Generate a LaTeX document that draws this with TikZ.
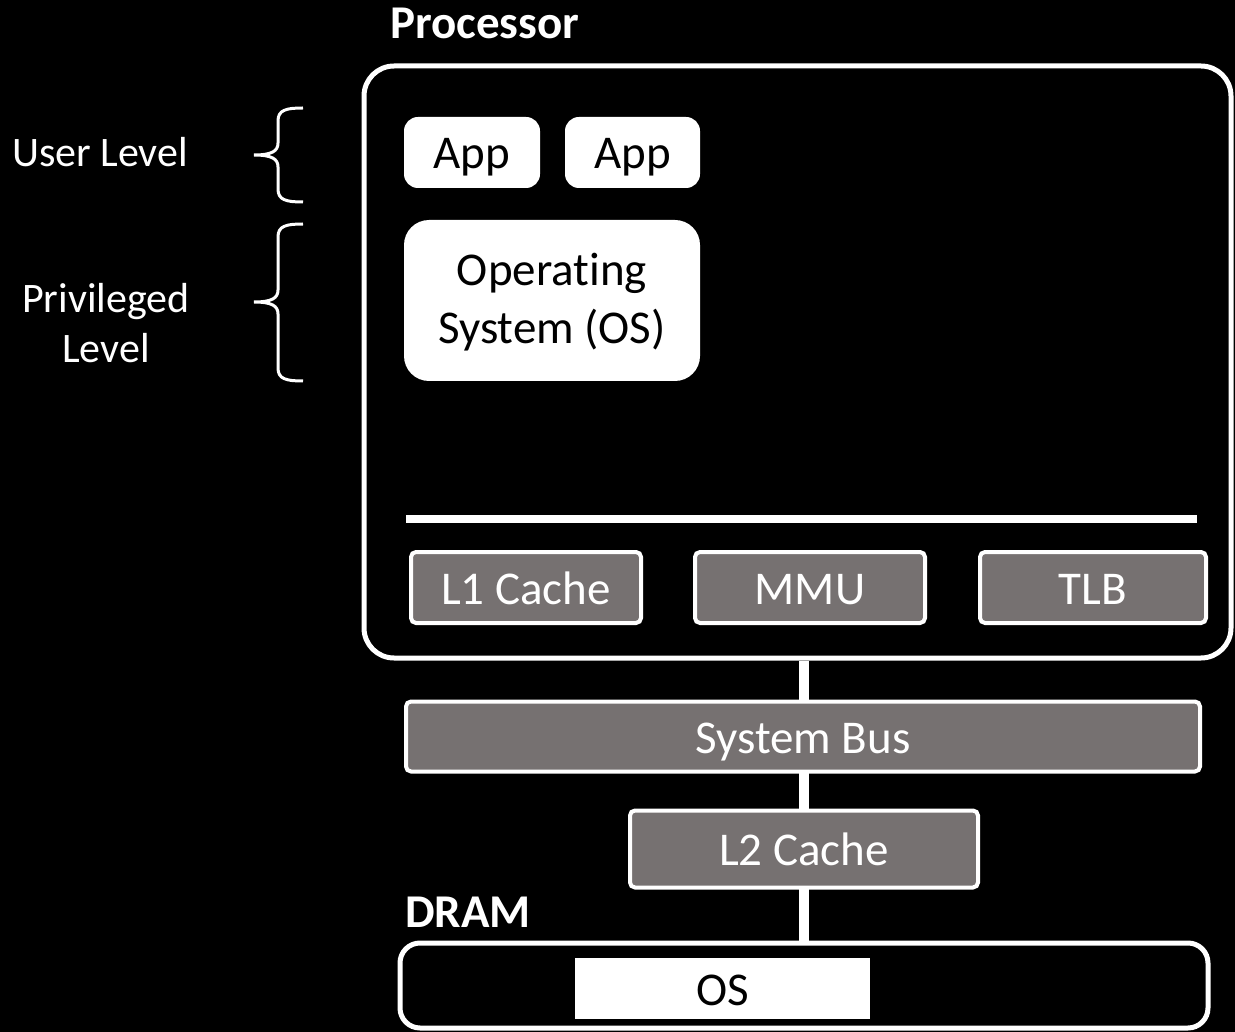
\documentclass[tikz,border=0pt]{standalone}
\usepackage{fontspec}
\setmainfont{Carlito}[Ligatures=NoCommon]
\usetikzlibrary{backgrounds}
\definecolor{boxgray}{HTML}{767171}
\begin{document}
\begin{tikzpicture}[x=1pt,y=-1pt,
  big/.style={font=\fontsize{47}{55}\selectfont},
  oneline/.style={text height=33pt, text depth=0pt},
  side/.style={font=\fontsize{42}{50}\selectfont, text=white, align=center},
  head/.style={font=\fontsize{47}{55}\selectfont\bfseries, text=white, inner sep=0},
  whitebox/.style={big, fill=white, text=black, rounded corners=14pt, inner sep=0, align=center},
  graybox/.style={big, oneline, fill=boxgray, draw=white, line width=4pt, rounded corners=5pt, text=white, inner sep=0},
  frame/.style={draw=white, line width=5pt, inner sep=0},
  bracestyle/.style={draw=white, line width=3pt},
  conn/.style={draw=white, line width=10pt}]
\useasboundingbox (0,0) rectangle (1235,1032);

\node[head, anchor=base west] (proclabel) at (390,39) {Processor};
\node[frame, rounded corners=30pt, minimum width=867pt, minimum height=592pt] (proc) at (797.5,362) {};

\node[whitebox, oneline, minimum width=136pt, minimum height=71pt] (app1) at (472,152.5) {App};
\node[whitebox, oneline, minimum width=135pt, minimum height=71pt] (app2) at (632.5,152.5) {App};
\node[whitebox, rounded corners=25pt, text depth=5pt, minimum width=296pt, minimum height=161pt] (os) at (552,300.5) {Operating\\[3pt]System (OS)};

\draw[white, line width=8pt] (406,519) -- (1197,519);

\node[graybox, minimum width=230pt, minimum height=71pt] (l1) at (526,587.5) {L1 Cache};
\node[graybox, minimum width=230pt, minimum height=71pt] (mmu) at (810,587.5) {MMU};
\node[graybox, minimum width=226pt, minimum height=71pt] (tlb) at (1093,587.5) {TLB};

\node[graybox, minimum width=794pt, minimum height=70pt] (bus) at (803,736.5) {System Bus};
\node[graybox, minimum width=348pt, minimum height=77pt] (l2) at (804,849) {L2 Cache};

\node[head, anchor=base west] (dramlabel) at (405,927) {DRAM};
\node[frame, rounded corners=20pt, minimum width=808pt, minimum height=85pt] (dram) at (804,985.5) {};
\node[big, oneline, fill=white, text=black, inner sep=0, minimum width=295pt, minimum height=61pt] (dramos) at (722.5,988.5) {OS};

\node[side] (user) at (100,152) {User Level};
\node[side] (priv) at (106,323) {Privileged\\Level};

\draw[bracestyle] (303,108) .. controls (286,108) and (278,110) .. (278,121) -- (278,143) .. controls (278,151) and (272,155) .. (254,155) .. controls (272,155) and (278,159) .. (278,167) -- (278,189) .. controls (278,200) and (286,202) .. (303,202);
\draw[bracestyle] (303,224) .. controls (286,224) and (278,226) .. (278,237) -- (278,290) .. controls (278,298) and (272,302) .. (254,302) .. controls (272,302) and (278,306) .. (278,314) -- (278,368) .. controls (278,379) and (286,381) .. (303,381);

\begin{scope}[on background layer]
  \fill[black] (0,0) rectangle (1235,1032);
  \draw[conn] (l2.center |- proc.south) -- (l2.center |- dram.north);
\end{scope}
\end{tikzpicture}
\end{document}
